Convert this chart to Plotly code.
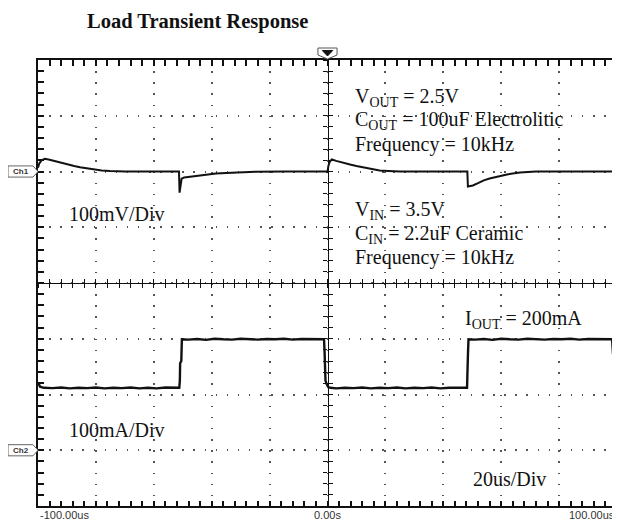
import plotly.graph_objects as go

# ---------------- data ----------------
# Ch1: output voltage deviation (mV) vs time (us)
ch1_t = [-100, -99.6, -98.8, -97.6, -96, -94.1, -92, -90, -87.5, -85.5, -83, -81, -78, -75.1, -70, -60, -51.3,
         -51.1, -50.8, -50.4, -49.5, -47, -44.4, -41, -38.5, -35, -31.6, -25, -15, -0.4,
         0.0, 0.3, 0.8, 1.5, 3, 5, 7.8, 10, 13, 15.5, 18, 21, 25, 40, 48.3,
         48.5, 49.2, 50.2, 52, 54, 56, 59, 62, 64, 66.5, 72, 85, 99.0, 99.4, 99.8, 100]
ch1_mv = [6.6, 14, 20, 22.7, 21, 18.4, 15, 12.5, 10, 7.7, 5.5, 3.6, 2, 0.9, 0, 0, 0,
          -38, -25, -13, -10.7, -9, -7, -5, -3.6, -2.5, -1.8, -0.5, 0, 0,
          -1.8, 10, 18, 21.5, 19, 16, 12.5, 10, 7, 4.5, 2, 1, 0, 0, 0,
          -27, -26, -25, -21, -16, -12.5, -8.5, -5.4, -3.5, -1.8, 0, 0, 0, 8, 16, 20]

# Ch2: load current (mA) vs time (us)
ch2_t = [-100, -99.3, -98, -95, -92, -89, -86, -83, -80, -77, -74, -71, -68, -65, -62, -59, -56, -53, -51.2,
         -51.0, -50.9, -50.5, -50.3, -48, -45, -42, -39, -36, -33, -30, -27, -24, -21, -18, -15, -12, -9, -6, -3, -1.2,
         -1.0, -0.9, -0.7, -0.3, 0.3, 1, 3, 6, 9, 12, 15, 18, 21, 24, 27, 30, 33, 36, 39, 42, 45, 48.2,
         48.5, 48.7, 51, 54, 57, 60, 63, 66, 69, 72, 75, 78, 81, 84, 87, 90, 93, 96, 98.3,
         98.6, 99.0, 99.4, 99.9]
ch2_ma = [122, 114, 112, 111.5, 112.5, 111, 112, 111.5, 112.5, 111, 112, 111.5, 112.5, 111, 112, 111, 112.5, 111.5, 112,
          125, 156, 160, 199, 198.5, 199.5, 198, 200, 199, 198.5, 200, 199, 198.5, 199.5, 199, 200, 198.5, 199.5, 199, 199.5, 199,
          175, 150, 125, 119, 113, 112, 111, 112, 111.5, 112.5, 111, 112, 111.5, 112.5, 111, 112, 111.5, 112.5, 111, 112, 111.5, 112,
          170, 199, 198.5, 199.5, 198, 200, 199, 198.5, 200, 199, 198.5, 199.5, 199, 200, 198.5, 199.5, 199, 199.5, 199,
          175, 150, 125, 112]

time_labels = ["-100.00us", "0.00s", "100.00us"]
time_label_pos = [-100, 0, 100]

title_text = "Load Transient Response"
notes_top = ["V<sub>OUT</sub> = 2.5V", "C<sub>OUT</sub> = 100uF Electrolitic", "Frequency = 10kHz"]
notes_mid = ["V<sub>IN</sub> = 3.5V", "C<sub>IN</sub> = 2.2uF Ceramic", "Frequency = 10kHz"]

# ---------------- figure ----------------
OFF = 8  # page body margin of the exported html
W, H = 620, 524
PL, PR, PT, PB = 38, 617, 60, 506   # wanted plot-area edges in window pixels
L, T = PL - OFF, PT - OFF
R, B = W + OFF - PR, H + OFF - PB
pw, ph = PR - PL, PB - PT

def px(xp):  # window pixel x -> paper
    return (xp - PL) / pw

def py(yp):  # window pixel y -> paper
    return (PB - yp) / ph

fig = go.Figure()
fig.add_trace(go.Scatter(x=ch1_t, y=ch1_mv, mode="lines", line=dict(color="#111", width=2),
                         xaxis="x", yaxis="y", showlegend=False, hoverinfo="skip"))
fig.add_trace(go.Scatter(x=ch2_t, y=ch2_ma, mode="lines", line=dict(color="#111", width=2.4),
                         xaxis="x", yaxis="y2", showlegend=False, hoverinfo="skip"))
# dummies so the tick-only axes are drawn
for xa, ya in [("x2", "y"), ("x3", "y"), ("x4", "y"), ("x5", "y"),
               ("x", "y3"), ("x", "y4"), ("x", "y5"), ("x", "y6")]:
    fig.add_trace(go.Scatter(x=[None], y=[None], xaxis=xa, yaxis=ya, showlegend=False, hoverinfo="skip"))

grid_col = "#555"
tk = dict(ticklen=4, tickcolor="#111", tickwidth=1.3)
tkf = dict(ticklen=5, tickcolor="#111", tickwidth=1.5)
common_x = dict(range=[-100, 100], dtick=20, showticklabels=False, zeroline=False, showgrid=False)
common_y = dict(range=[-600, 200], dtick=100, showticklabels=False, zeroline=False, showgrid=False)

def xtick_axis(pos, side, ticks, line, t=tk):
    return dict(**common_x, overlaying="x", anchor="free", position=pos, side=side,
                showline=line, linecolor="#111", linewidth=1.2, ticks=ticks, **t,
                minor=dict(dtick=4, ticks=ticks, **t))

def ytick_axis(pos, side, ticks, line, t=tk):
    return dict(**common_y, overlaying="y", anchor="free", position=pos, side=side,
                showline=line, linecolor="#111", linewidth=1.2, ticks=ticks, **t,
                minor=dict(dtick=20, ticks=ticks, **t))

fig.update_layout(
    width=W, height=H, margin=dict(l=L, r=R, t=T, b=B, autoexpand=False),
    paper_bgcolor="white", plot_bgcolor="white",
    xaxis=dict(range=[-100, 100], dtick=20, showticklabels=False, zeroline=False,
               showline=True, linecolor="#111", linewidth=1.5, mirror="ticks", ticks="inside", **tkf,
               minor=dict(dtick=4, ticks="inside", showgrid=False, **tkf),
               showgrid=True, gridcolor=grid_col, gridwidth=1.5, griddash="1.5px,9.65px"),
    yaxis=dict(range=[-600, 200], dtick=100, showticklabels=False, zeroline=False,
               showline=True, linecolor="#111", linewidth=1.5, mirror="ticks", ticks="inside", **tkf,
               minor=dict(dtick=20, ticks="inside", showgrid=False, **tkf),
               showgrid=True, gridcolor=grid_col, gridwidth=1.5, griddash="1.5px,9.6px"),
    yaxis2=dict(range=[-100, 700], overlaying="y", visible=False),
    xaxis2=xtick_axis(0.5, "bottom", "outside", True),
    xaxis3=xtick_axis(0.5, "bottom", "inside", False),
    xaxis4=xtick_axis(0.0, "bottom", "inside", False, tkf),
    xaxis5=xtick_axis(1.0, "top", "inside", False, tkf),
    yaxis3=ytick_axis(0.5, "left", "outside", True),
    yaxis4=ytick_axis(0.5, "left", "inside", False),
    yaxis5=ytick_axis(0.0, "left", "inside", False, tkf),
    yaxis6=ytick_axis(1.0, "right", "inside", False, tkf),
    title=dict(text=title_text, x=(87 - OFF) / W, xanchor="left", xref="container",
               y=1 - (21 - OFF) / H, yanchor="middle",
               font=dict(family="Liberation Serif", size=20.5, color="#111", weight="bold")),
)

serif = dict(family="Liberation Serif", size=20, color="#111")
ann = []
for txt, yc in zip(notes_top, [97.5, 120, 144]):
    ann.append(dict(text=txt, x=px(353), y=py(yc), xref="paper", yref="paper",
                    xanchor="left", yanchor="middle", showarrow=False, font=serif))
for txt, yc in zip(notes_mid, [210.5, 234, 257]):
    ann.append(dict(text=txt, x=px(353), y=py(yc), xref="paper", yref="paper",
                    xanchor="left", yanchor="middle", showarrow=False, font=serif))
ann.append(dict(text="100mV/Div", x=px(67), y=py(213.5), xref="paper", yref="paper",
                xanchor="left", yanchor="middle", showarrow=False, font=serif))
ann.append(dict(text="100mA/Div", x=px(67), y=py(429.5), xref="paper", yref="paper",
                xanchor="left", yanchor="middle", showarrow=False, font=serif))
ann.append(dict(text="I<sub>OUT</sub> = 200mA", x=px(463), y=py(319), xref="paper", yref="paper",
                xanchor="left", yanchor="middle", showarrow=False, font=serif))
ann.append(dict(text="20us/Div", x=px(471), y=py(478.5), xref="paper", yref="paper",
                xanchor="left", yanchor="middle", showarrow=False, font=serif))

sans = dict(family="Liberation Sans", size=11, color="#333")
for lab, tv, anc in zip(time_labels, time_label_pos, ["left", "center", "right"]):
    ann.append(dict(text=lab, x=tv, y=py(515), xref="x", yref="paper",
                    xanchor=anc, yanchor="middle", showarrow=False, font=sans))

# channel markers
for name, yref in [("Ch1", "y"), ("Ch2", "y2")]:
    ann.append(dict(text="<b>" + name + "</b>", x=px(20.5), y=0, xref="paper", yref=yref,
                    xanchor="center", yanchor="middle", showarrow=False,
                    font=dict(family="Liberation Sans", size=8, color="#333")))
fig.update_layout(annotations=ann)

shapes = []
for yref in ["y", "y2"]:
    x0, x1, x2 = px(8), px(33), px(38)
    shapes.append(dict(type="path", xref="paper", yref=yref,
                       path=f"M {x0},-10 L {x1},-10 L {x2},0 L {x1},10 L {x0},10 Z",
                       line=dict(color="#666", width=1), fillcolor="white"))
# trigger marker at top centre
shapes.append(dict(type="path", xref="x", yref="paper",
                   path=f"M -3.3,{py(48)} L 3.3,{py(48)} L 3.3,{py(55)} L 0,{py(59)} L -3.3,{py(55)} Z",
                   line=dict(color="#555", width=1), fillcolor="white"))
shapes.append(dict(type="path", xref="x", yref="paper",
                   path=f"M -1.8,{py(50.5)} L 1.8,{py(50.5)} L 0,{py(56)} Z",
                   line=dict(color="#111", width=1), fillcolor="#111"))
fig.update_layout(shapes=shapes)

fig.write_html("out.html")
